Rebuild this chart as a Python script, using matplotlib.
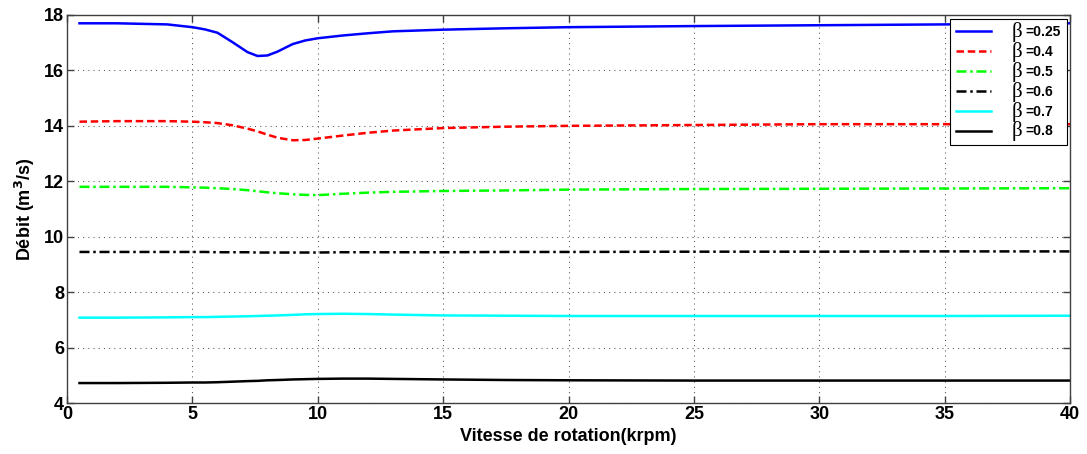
import numpy as np
import matplotlib as mpl
mpl.use("Agg")
import matplotlib.pyplot as plt

# rotation speed (krpm), shared by all curves
speed = [0.5, 2, 4, 5, 5.5, 6, 6.6, 7.2, 7.6, 8, 8.4, 9, 9.5, 10, 11, 12, 13,
         15, 17.5, 20, 25, 30, 35, 40]

# flow rate (m3/s) for each beta
q025 = [17.7, 17.7, 17.66, 17.56, 17.48, 17.36, 17.02, 16.66, 16.52, 16.54, 16.68,
        16.95, 17.08, 17.16, 17.26, 17.34, 17.41, 17.47, 17.52, 17.56, 17.6, 17.63,
        17.66, 17.7]
q04 = [14.15, 14.17, 14.17, 14.15, 14.13, 14.1, 14.02, 13.9, 13.8, 13.68, 13.57,
       13.48, 13.49, 13.54, 13.65, 13.75, 13.83, 13.92, 13.97, 14.0, 14.03, 14.06,
       14.06, 14.06]
q05 = [11.8, 11.8, 11.8, 11.78, 11.77, 11.75, 11.72, 11.68, 11.64, 11.6, 11.57,
       11.53, 11.51, 11.5, 11.55, 11.59, 11.62, 11.65, 11.67, 11.7, 11.72, 11.73,
       11.74, 11.75]
q06 = [9.45, 9.45, 9.45, 9.45, 9.45, 9.44, 9.44, 9.44, 9.43, 9.43, 9.43, 9.43,
       9.43, 9.43, 9.44, 9.44, 9.44, 9.44, 9.45, 9.45, 9.46, 9.46, 9.47, 9.47]
q07 = [7.08, 7.08, 7.09, 7.1, 7.1, 7.11, 7.12, 7.13, 7.14, 7.15, 7.16, 7.18,
       7.2, 7.21, 7.22, 7.21, 7.19, 7.16, 7.15, 7.14, 7.14, 7.14, 7.14, 7.15]
q08 = [4.72, 4.72, 4.73, 4.74, 4.74, 4.75, 4.77, 4.79, 4.8, 4.82, 4.83, 4.85,
       4.86, 4.87, 4.88, 4.88, 4.87, 4.85, 4.83, 4.82, 4.81, 4.81, 4.81, 4.81]

betas = ["0.25", "0.4", "0.5", "0.6", "0.7", "0.8"]
series = [q025, q04, q05, q06, q07, q08]
colors = ["#0000ff", "#ff0000", "#00ff00", "black", "#00ffff", "black"]
styles = ["-", (0, (3, 1.5)), (0, (4, 1.5, 1, 1.5)), (0, (4, 1.5, 1, 1.5)), "-", "-"]

mpl.rc("font", family="Liberation Sans", weight="bold", size=13)

fig = plt.figure(figsize=(10.87, 4.54), dpi=100)
ax = fig.add_axes([0.0616, 0.1123, 0.9228, 0.8547])

for y, b, c, ls in zip(series, betas, colors, styles):
    ax.plot(speed, y, color=c, ls=ls, lw=1.8, label="=" + b)

ax.set_xlim(0, 40)
ax.set_ylim(4, 18)
ax.set_xticks(np.arange(0, 41, 5))
ax.set_yticks(np.arange(4, 19, 2))
ax.grid(True, ls=(0, (1, 4)), color="#555555", lw=0.75)
ax.tick_params(direction="in", top=True, right=True, length=5, width=1, pad=2,
               color="#404040")
for sp in ax.spines.values():
    sp.set_color("#404040")
    sp.set_linewidth(1)

ax.set_xlabel("Vitesse de rotation(krpm)", fontsize=13, fontweight="bold", labelpad=4)
ax.set_ylabel(r"Débit (m$^{\mathbf{3}}$/s)", fontsize=13, fontweight="bold", labelpad=5)

leg = ax.legend(loc="upper right", bbox_to_anchor=(1067/1087., 1 - 19/454.),
                bbox_transform=fig.transFigure, borderaxespad=0,
                prop={"size": 10, "weight": "bold"}, fancybox=False, framealpha=1,
                handlelength=2.5, labelspacing=0.42, borderpad=0.45,
                handletextpad=2.5)
leg.get_frame().set_edgecolor("black")
leg.get_frame().set_linewidth(0.8)

# large serif beta in front of each legend label
fig.canvas.draw()
inv = fig.transFigure.inverted()
for t in leg.get_texts():
    bb = t.get_window_extent()
    x, y = inv.transform((bb.x0 - 3, 0.5 * (bb.y0 + bb.y1)))
    fig.text(x, y, "β", ha="right", va="center", fontsize=15,
             family="Liberation Serif", fontweight="normal", zorder=10)

fig.savefig("out.png", dpi=100)
